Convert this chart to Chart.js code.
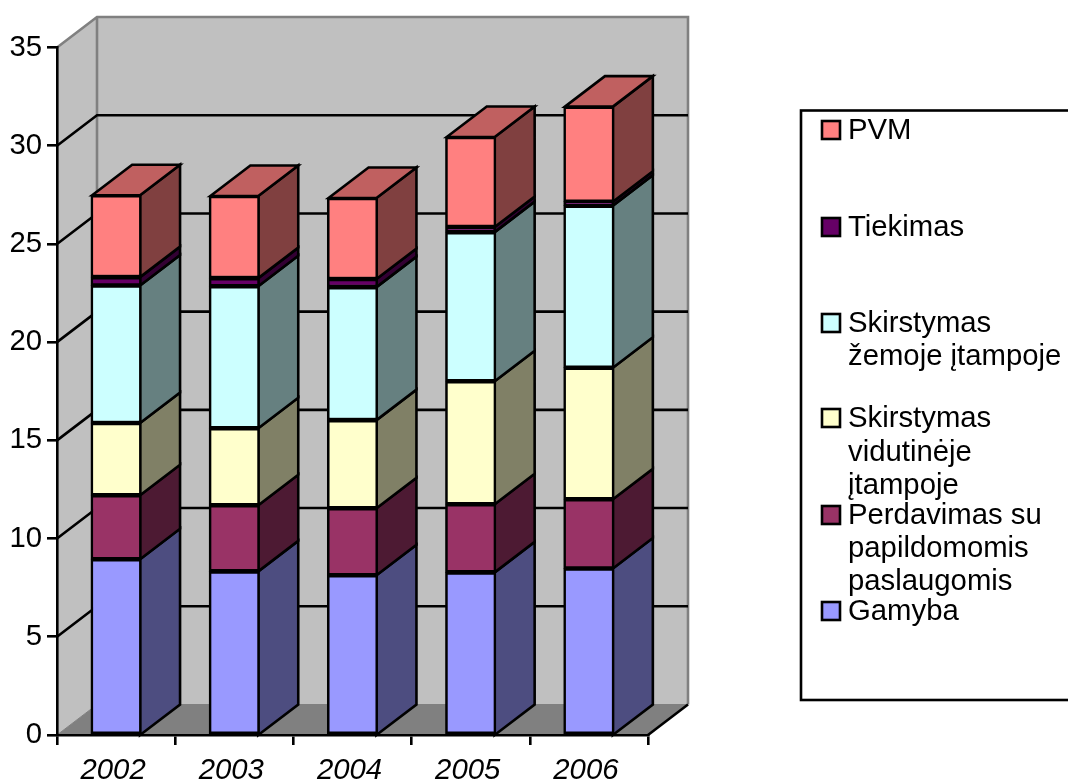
<!DOCTYPE html>
<html>
<head>
<meta charset="utf-8">
<style>html,body{margin:0;padding:0;background:#fff}canvas{display:block}</style>
<script src="https://cdn.jsdelivr.net/npm/chart.js@4"></script>
</head>
<body>
<canvas id="c" width="1068" height="781"></canvas>
<script>
const categories = ['2002','2003','2004','2005','2006'];
const gamyba = [8.95,8.33,8.13,8.28,8.48];
const perdavimas = [3.26,3.37,3.41,3.47,3.52];
const vidutine = [3.67,3.92,4.49,6.26,6.70];
const zema = [7.00,7.23,6.77,7.59,8.25];
const tiekimas = [0.43,0.41,0.41,0.26,0.20];
const pvm = [4.17,4.18,4.13,4.58,4.84];
const yTicks = [0,5,10,15,20,25,30,35];

const FONT = '"Liberation Sans", Arial, sans-serif';
const FS = 29.3;
const DX = 40, DY = 30.5, LW = 2.6;
const styles = [
  {label:'Gamyba', lines:['Gamyba'], data:gamyba, c:'#9999FF', s:'#4D4D80'},
  {label:'Perdavimas su papildomomis paslaugomis', lines:['Perdavimas su','papildomomis','paslaugomis'], data:perdavimas, c:'#993366', s:'#4D1A33'},
  {label:'Skirstymas vidutinėje įtampoje', lines:['Skirstymas','vidutinėje','įtampoje'], data:vidutine, c:'#FFFFCC', s:'#808066'},
  {label:'Skirstymas žemoje įtampoje', lines:['Skirstymas','žemoje įtampoje'], data:zema, c:'#CCFFFF', s:'#668080'},
  {label:'Tiekimas', lines:['Tiekimas'], data:tiekimas, c:'#660066', s:'#330033'},
  {label:'PVM', lines:['PVM'], data:pvm, c:'#FF8080', s:'#804040', t:'#C06060'}
];
const legendBaselines = [[620],[524,557,590],[427,461,494],[332,365],[236],[139]];

function poly(ctx, pts, fill, stroke, lw){
  ctx.beginPath();
  pts.forEach((p,i)=> i?ctx.lineTo(p[0],p[1]):ctx.moveTo(p[0],p[1]));
  ctx.closePath();
  if(fill){ctx.fillStyle=fill;ctx.fill();}
  if(stroke){ctx.strokeStyle=stroke;ctx.lineWidth=lw||LW;ctx.lineJoin='miter';ctx.stroke();}
}
const walls3d = {
  id:'walls3d',
  beforeDraw(chart){
    const ctx=chart.ctx, a=chart.chartArea, y=chart.scales.y;
    const l=a.left, r=a.right, t=y.getPixelForValue(35), b=y.getPixelForValue(0);
    ctx.save();
    ctx.fillStyle='#fff';ctx.fillRect(0,0,chart.width,chart.height);
    poly(ctx,[[l,t],[l+DX,t-DY],[r+DX,t-DY],[r+DX,b-DY],[l+DX,b-DY],[l,b]],'#C0C0C0');
    poly(ctx,[[l,b],[l+DX,b-DY],[r+DX,b-DY],[r,b]],'#808080');
    ctx.strokeStyle='#808080';ctx.lineWidth=LW;
    ctx.beginPath();
    ctx.moveTo(l,t);ctx.lineTo(l+DX,t-DY);ctx.lineTo(r+DX,t-DY);ctx.lineTo(r+DX,b-DY);
    ctx.moveTo(l+DX,t-DY);ctx.lineTo(l+DX,b-DY);
    ctx.stroke();
    ctx.lineWidth=1;
    ctx.beginPath();ctx.moveTo(l,b);ctx.lineTo(l+DX,b-DY);ctx.lineTo(r+DX,b-DY);ctx.stroke();
    ctx.strokeStyle='#000';ctx.lineWidth=LW;
    yTicks.filter(v=>v>0&&v<35).forEach(v=>{
      const p=y.getPixelForValue(v);
      ctx.beginPath();ctx.moveTo(l,p);ctx.lineTo(l+DX,p-DY);ctx.lineTo(r+DX,p-DY);ctx.stroke();
    });
    ctx.beginPath();ctx.moveTo(r,b);ctx.lineTo(r+DX,b-DY);ctx.stroke();
    ctx.restore();
  },
  beforeDatasetsDraw(chart){
    const ctx=chart.ctx, y=chart.scales.y;
    ctx.save();
    categories.forEach((_,i)=>{
      let sum=0;
      styles.forEach((st,d)=>{
        const el=chart.getDatasetMeta(d).data[i];
        const x1=el.x+el.width/2-1.3;
        const y0=y.getPixelForValue(sum);
        sum+=st.data[i];
        const y1=y.getPixelForValue(sum);
        poly(ctx,[[x1,y0],[x1+DX,y0-DY],[x1+DX,y1-DY],[x1,y1]],st.s,'#000',LW);
        if(st.t){
          const x0=el.x-el.width/2+1.3;
          poly(ctx,[[x0,y1],[x0+DX,y1-DY],[x1+DX,y1-DY],[x1,y1]],st.t,'#000',LW);
        }
      });
    });
    ctx.restore();
  },
  afterDraw(chart){
    const ctx=chart.ctx;
    ctx.save();
    ctx.strokeStyle='#000';ctx.lineWidth=LW;
    ctx.strokeRect(801,110.5,300,589.5);
    ctx.font=FS+'px '+FONT;ctx.fillStyle='#000';ctx.textBaseline='alphabetic';ctx.textAlign='left';
    styles.forEach((st,d)=>{
      const bl=legendBaselines[d];
      ctx.fillStyle=st.c;ctx.fillRect(822,bl[0]-18,18,18);
      ctx.strokeStyle='#000';ctx.lineWidth=LW;ctx.strokeRect(822,bl[0]-18,18,18);
      ctx.fillStyle='#000';
      st.lines.forEach((ln,k)=>ctx.fillText(ln,848,bl[k]));
    });
    ctx.restore();
  }
};
new Chart(document.getElementById('c'),{
  type:'bar',
  data:{labels:categories,datasets:styles.map(st=>({
    label:st.label,data:st.data,backgroundColor:st.c,borderColor:'#000',borderWidth:LW,barThickness:50.5,borderSkipped:false
  }))},
  options:{
    responsive:false,animation:false,devicePixelRatio:1,
    layout:{padding:{top:47.5,right:420,left:0,bottom:0}},
    plugins:{legend:{display:false},tooltip:{enabled:false},title:{display:false}},
    scales:{
      x:{stacked:true,
        afterFit(s){s.height=46;},
        grid:{drawOnChartArea:false,drawTicks:true,tickLength:10,color:'#000',lineWidth:LW},
        border:{color:'#000',width:LW,z:1},
        ticks:{color:'#000',padding:8,labelOffset:-3,maxRotation:0,font:{family:FONT,size:FS,style:'italic'}}},
      y:{stacked:true,min:0,max:35,
        afterFit(s){s.width=57;},
        afterBuildTicks(s){s.ticks=yTicks.map(v=>({value:v}));},
        grid:{drawOnChartArea:false,drawTicks:true,tickLength:10,color:'#000',lineWidth:LW},
        border:{color:'#000',width:LW,z:1},
        ticks:{color:'#000',padding:5,font:{family:FONT,size:FS}}}
    }
  },
  plugins:[walls3d]
});
</script>
</body>
</html>
